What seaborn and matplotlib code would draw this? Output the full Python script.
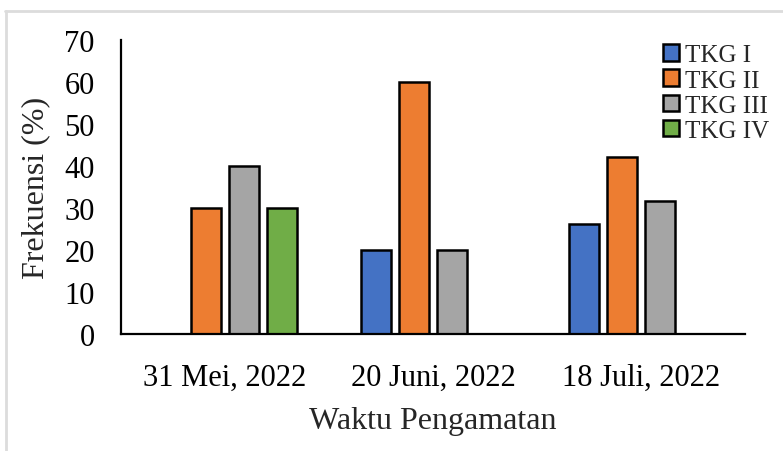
import pandas as pd
import numpy as np
import matplotlib
matplotlib.use("Agg")
import matplotlib.pyplot as plt
import seaborn as sns
from matplotlib.lines import Line2D

# data
dates = ["31 Mei, 2022", "20 Juni, 2022", "18 Juli, 2022"]
groups = ["TKG I", "TKG II", "TKG III", "TKG IV"]
tkg_1 = [0, 20, 26.3]
tkg_2 = [30, 60, 42.1]
tkg_3 = [40, 20, 31.6]
tkg_4 = [30, 0, 0]
colors = ["#4472C4", "#ED7D31", "#A5A5A5", "#70AD47"]

rows = []
for g, vals in zip(groups, [tkg_1, tkg_2, tkg_3, tkg_4]):
    for d, v in zip(dates, vals):
        rows.append({"waktu": d, "tkg": g, "frekuensi": v})
df = pd.DataFrame(rows)
df = df[df["frekuensi"] > 0]

sns.set_style("white")
plt.rcParams["font.family"] = ["Liberation Serif", "DejaVu Serif"]

fig = plt.figure(figsize=(7.83, 4.52), dpi=100)
ax = fig.add_axes([0.1545, 0.259, 0.797, 0.650])

sns.barplot(data=df, x="waktu", y="frekuensi", hue="tkg", order=dates,
            hue_order=groups, palette=colors, saturation=1, width=0.73,
            gap=0.21, errorbar=None, edgecolor="black", linewidth=1.8, ax=ax)

ax.set_ylim(0, 70)
ax.set_yticks(range(0, 71, 10))
ax.set_xlim(-0.5, 2.5)
ax.tick_params(axis="both", length=0, labelsize=22, colors="black")
ax.tick_params(axis="y", pad=19)
ax.tick_params(axis="x", pad=21)
ax.set_ylabel("Frekuensi (%)", fontsize=23, labelpad=10)
ax.set_xlabel("Waktu Pengamatan", fontsize=23, labelpad=10)

for side in ["top", "right"]:
    ax.spines[side].set_visible(False)
for side in ["left", "bottom"]:
    ax.spines[side].set_color("black")
    ax.spines[side].set_linewidth(1.6)

leg = ax.legend(loc="upper left", bbox_to_anchor=(0.852, 1.02), frameon=False,
                fontsize=18, handlelength=0.65, handleheight=0.65,
                handletextpad=0.25, labelspacing=0.12, borderaxespad=0)
for h in leg.get_patches():
    h.set_linewidth(1.8)

# light grey frame from the screenshot
fig.add_artist(Line2D([5 / 783, 1], [1 - 12 / 452, 1 - 12 / 452],
                      transform=fig.transFigure, color="#dcdcdc", linewidth=2))
fig.add_artist(Line2D([6 / 783, 6 / 783], [0, 1 - 12 / 452],
                      transform=fig.transFigure, color="#dcdcdc", linewidth=2))

fig.savefig("out.png", dpi=100)
